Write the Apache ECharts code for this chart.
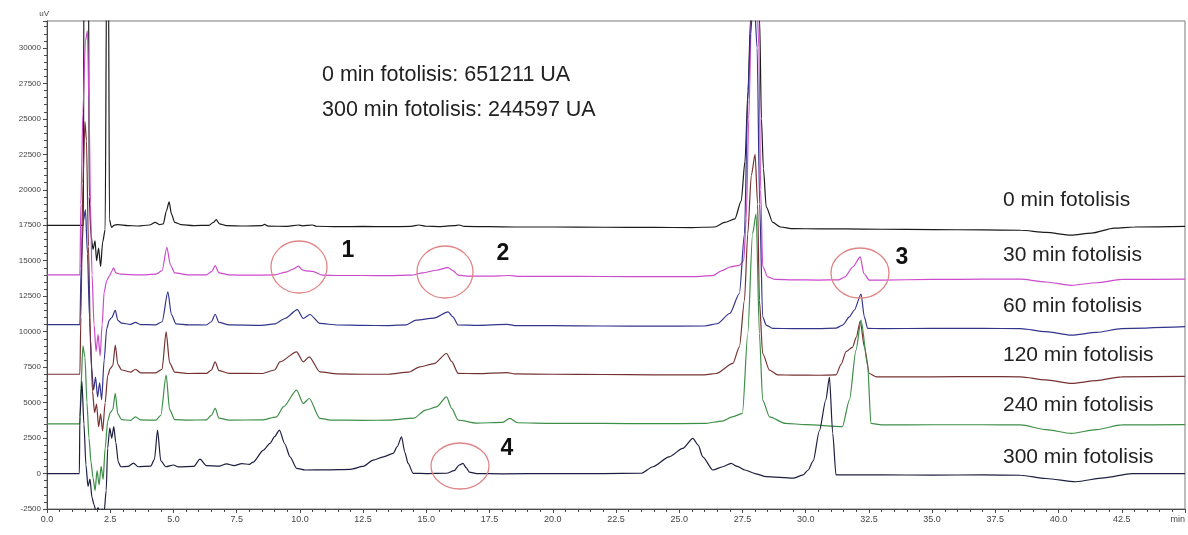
<!DOCTYPE html>
<html>
<head>
<meta charset="utf-8">
<script src="https://cdn.jsdelivr.net/npm/echarts@6/dist/echarts.min.js"></script>
<style>
  html, body { margin: 0; padding: 0; background: #fff; }
  #chart { width: 1188px; height: 535px; }
</style>
</head>
<body>
<div id="chart"></div>
<script>
// HPLC chromatograms of the photolysis series, stacked with a vertical offset (uV vs. min)
const traceNames = ['0 min fotolisis', '30 min fotolisis', '60 min fotolisis',
                    '120 min fotolisis', '240 min fotolisis', '300 min fotolisis'];

const t0 = [[0,17500],[1.44,17500],[1.46,36000],[1.64,36000],[1.67,19500],[1.74,16800],[1.82,15800],[1.9,16400],[1.96,15000],[2.04,15900],[2.12,14600],[2.2,16300],[2.3,17200],[2.36,36000],[2.43,36000],[2.47,17900],[2.55,17350],[2.65,17500],[2.8,17550],[3.2,17480],[3.6,17450],[4.05,17520],[4.28,17700],[4.45,17550],[4.6,17600],[4.72,18500],[4.83,19150],[4.92,18300],[5.05,17700],[5.3,17550],[5.8,17480],[6.4,17500],[6.58,17700],[6.69,17900],[6.82,17600],[7.1,17480],[7.8,17450],[8.5,17470],[8.6,17560],[8.75,17440],[9.5,17420],[9.95,17520],[10.1,17460],[10.5,17520],[10.65,17430],[11.5,17400],[12.5,17420],[13.5,17400],[14.4,17420],[14.7,17520],[15.0,17430],[15.5,17410],[16.1,17470],[16.3,17520],[16.5,17420],[17.5,17400],[18.5,17380],[20,17380],[22,17360],[24,17350],[25.5,17340],[26.4,17380],[26.8,17700],[27.2,17950],[27.45,19200],[27.6,22000],[27.72,27000],[27.82,32000],[28.0,44000],[28.18,32000],[28.25,25000],[28.33,21500],[28.44,18800],[28.7,17700],[29.0,17380],[29.5,17260],[30.5,17250],[31.5,17240],[33,17220],[35,17200],[37,17170],[38.5,17150],[39.5,17000],[40.5,16800],[41.3,16950],[42.2,17300],[43,17380],[45,17420]];

const t30 = [[0,14000],[1.3,14000],[1.34,19000],[1.42,25500],[1.52,30500],[1.6,31200],[1.66,26000],[1.72,19000],[1.78,14000],[1.86,10500],[1.94,8600],[2.02,9800],[2.1,8300],[2.18,10500],[2.26,12800],[2.36,13600],[2.46,13900],[2.56,14250],[2.63,14500],[2.72,14150],[2.9,14050],[3.3,14020],[3.7,14000],[4.3,14050],[4.55,14300],[4.74,15950],[4.88,14700],[5.05,14150],[5.6,14000],[6.3,14000],[6.52,14250],[6.65,14650],[6.8,14150],[7.2,14000],[8.0,13980],[9.0,14000],[9.45,14200],[9.72,14400],[9.94,14620],[10.1,14350],[10.25,14280],[10.5,14250],[10.9,13980],[11.5,13960],[12.5,13960],[13.5,13950],[14.4,13980],[14.87,14150],[15.4,14330],[15.86,14520],[16.05,14300],[16.26,13980],[16.6,13920],[17.5,13920],[18.3,13960],[18.6,13900],[20,13900],[22,13890],[24,13880],[25.6,13880],[26.3,13950],[26.7,14300],[27.0,14560],[27.38,14680],[27.55,15000],[27.65,18000],[27.75,25000],[27.85,32000],[28.0,38000],[28.15,30000],[28.22,20000],[28.3,14600],[28.5,13860],[28.8,13680],[29.5,13650],[30.5,13640],[31.3,13650],[31.55,13860],[31.86,14560],[32.16,15270],[32.3,14100],[32.52,13630],[33,13640],[35,13680],[37,13700],[38.5,13700],[39.5,13500],[40.5,13270],[41.5,13450],[42.5,13680],[45,13700]];

const t60 = [[0,10500],[1.3,10500],[1.35,14500],[1.44,17800],[1.52,18600],[1.6,15500],[1.68,11000],[1.76,7500],[1.84,5900],[1.92,6800],[2.0,5400],[2.08,6400],[2.16,5200],[2.26,8000],[2.36,10200],[2.46,10800],[2.56,11000],[2.7,11500],[2.8,10800],[2.95,10600],[3.3,10520],[3.5,10650],[3.7,10500],[4.3,10480],[4.55,10700],[4.78,12800],[4.92,11200],[5.1,10550],[5.6,10480],[6.3,10470],[6.5,10700],[6.65,11230],[6.8,10650],[7.2,10480],[8.5,10450],[9.0,10550],[9.41,10930],[9.9,11560],[10.13,10930],[10.4,11210],[10.79,10580],[11.5,10470],[12.5,10440],[13.5,10430],[14.2,10480],[14.6,10810],[15.3,10950],[15.86,11390],[16.05,11050],[16.26,10470],[17,10450],[18.2,10520],[18.5,10430],[20,10420],[22,10400],[24,10390],[26,10400],[26.5,10560],[27.0,11280],[27.38,12690],[27.58,16900],[27.71,26300],[27.82,31000],[27.95,34000],[28.08,30000],[28.18,19000],[28.3,11040],[28.44,10460],[28.7,10230],[29.5,10220],[30.5,10220],[31.2,10250],[31.46,10460],[31.73,11040],[31.92,11510],[32.19,12650],[32.32,11040],[32.45,10230],[33,10220],[35,10230],[37,10230],[38.5,10220],[39.5,10000],[40.5,9750],[41.5,9950],[42.5,10220],[45,10350]];

const t120 = [[0,7000],[1.3,7000],[1.34,11000],[1.42,20500],[1.5,24800],[1.56,23500],[1.64,16000],[1.72,9500],[1.8,5800],[1.88,4300],[1.96,4900],[2.04,3300],[2.12,4200],[2.2,3000],[2.3,5000],[2.4,6900],[2.5,7400],[2.6,7600],[2.7,9050],[2.8,7700],[2.95,7300],[3.3,7150],[3.5,7350],[3.7,7100],[4.3,7100],[4.55,7350],[4.71,9990],[4.85,7800],[5.05,7150],[5.6,7050],[6.3,7060],[6.5,7300],[6.65,7870],[6.8,7250],[7.2,7060],[8.5,7050],[9.0,7300],[9.21,7870],[9.87,8580],[10.13,7870],[10.37,8230],[10.79,7170],[11.5,7020],[12.5,7000],[13.5,7000],[14.3,7150],[14.74,7520],[15.3,7750],[15.8,8460],[16.0,7900],[16.26,7060],[17,7040],[18.2,7120],[18.5,7020],[20,7000],[22,6980],[24,6960],[26,6960],[26.46,7050],[27.12,7760],[27.38,8930],[27.58,12220],[27.71,16900],[27.85,21000],[28.0,22500],[28.1,19000],[28.17,12220],[28.3,8460],[28.57,7290],[28.9,6950],[29.5,6940],[30.5,6930],[31.2,6950],[31.4,7700],[31.6,8600],[31.85,8900],[32.0,9600],[32.16,10750],[32.32,8930],[32.52,7050],[32.8,6820],[35,6820],[37,6830],[38.5,6820],[39.5,6600],[40.5,6350],[41.5,6550],[42.5,6820],[45,6850]];

const t240 = [[0,3500],[1.3,3500],[1.34,6000],[1.42,9000],[1.5,8200],[1.58,5000],[1.66,2500],[1.74,800],[1.82,-300],[1.9,-1200],[1.98,200],[2.06,-800],[2.14,500],[2.22,-400],[2.3,1800],[2.4,3700],[2.5,4300],[2.6,4500],[2.7,5650],[2.8,4200],[2.95,3800],[3.3,3750],[3.5,4000],[3.7,3780],[4.3,3760],[4.5,4100],[4.71,6940],[4.85,4500],[5.05,3800],[5.6,3770],[6.3,3780],[6.5,4100],[6.65,4590],[6.8,3900],[7.2,3770],[8.5,3780],[9.08,4000],[9.35,4700],[9.87,5880],[10.13,4940],[10.37,5290],[10.79,3890],[11.2,3770],[12.5,3750],[13.5,3760],[14.5,3900],[14.97,4470],[15.4,4700],[15.8,5410],[16.0,4600],[16.26,3770],[17,3560],[18.0,3600],[18.3,3890],[18.6,3580],[20,3540],[22,3530],[24,3520],[26,3530],[26.7,3700],[27.1,4000],[27.5,4240],[27.71,9870],[27.9,16900],[28.04,18300],[28.17,9870],[28.3,5180],[28.57,4000],[29.2,3530],[30,3450],[31.45,3300],[31.73,5180],[31.99,8700],[32.19,10810],[32.45,7650],[32.58,3530],[33,3430],[35,3440],[37,3440],[38.5,3430],[39.5,3100],[40.5,2830],[41.5,3100],[42.5,3430],[45,3450]];

const t300 = [[0,0],[1.28,0],[1.3,4000],[1.38,6500],[1.46,3500],[1.54,600],[1.62,-900],[1.7,-400],[1.78,-1700],[1.86,-2200],[1.94,-2700],[2.02,-2400],[2.1,-2800],[2.18,-2500],[2.26,-2700],[2.34,-1200],[2.4,1800],[2.48,3200],[2.56,2500],[2.64,3300],[2.72,2200],[2.82,800],[2.92,480],[3.2,500],[3.42,740],[3.6,480],[4.1,520],[4.25,1000],[4.37,3060],[4.5,900],[4.7,480],[5.0,600],[5.2,470],[5.8,500],[6.05,1010],[6.3,560],[6.8,520],[7.1,680],[7.4,560],[7.7,700],[8.0,640],[8.15,800],[8.56,1650],[8.82,2130],[9.0,2600],[9.19,3060],[9.4,2100],[9.61,1180],[9.87,365],[10.2,250],[11,260],[12,300],[12.5,500],[12.9,950],[13.3,1180],[13.69,1420],[13.85,1900],[14.02,2590],[14.15,1500],[14.28,715],[14.48,15],[15,0],[15.8,20],[16.1,200],[16.3,600],[16.45,715],[16.58,400],[16.7,100],[17,0],[18,-20],[20,0],[22,0],[23.5,20],[23.96,480],[24.6,1180],[25.14,1770],[25.54,2480],[25.75,2000],[25.93,1180],[26.33,250],[26.72,480],[27.05,715],[27.3,500],[27.6,250],[28.0,0],[28.44,-220],[29.5,-330],[29.9,-100],[30.1,250],[30.3,900],[30.54,3000],[30.8,5200],[30.94,6800],[31.07,2830],[31.2,-100],[33,-100],[35,-110],[37,-100],[38.5,-120],[39.5,-350],[40.68,-580],[41.8,-300],[42.9,0],[45,0]];

const traces = [t0, t30, t60, t120, t240, t300];
const traceColors = ['#1b1b1b', '#cc4acc', '#34348c', '#763232', '#3e8e48', '#1e1e40'];

const headerLines = ['0 min fotolisis: 651211 UA', '300 min fotolisis: 244597 UA'];
const peakTags = ['1', '2', '3', '4'];

const chart = echarts.init(document.getElementById('chart'), null, { renderer: 'canvas' });

const axisColor = '#4a4a4a';
const baseFont = '"Liberation Sans", Arial, sans-serif';

chart.setOption({
  animation: false,
  backgroundColor: '#ffffff',
  grid: { left: 47, right: 2, top: 21, bottom: 26, show: true, borderColor: '#7a7a7a', borderWidth: 1 },
  xAxis: {
    type: 'value', min: 0, max: 45, interval: 2.5,
    axisLine: { show: true, onZero: false, lineStyle: { color: axisColor, width: 1 } },
    axisTick: { show: true, length: 4, lineStyle: { color: axisColor } },
    minorTick: { show: true, splitNumber: 5, length: 3, lineStyle: { color: axisColor } },
    splitLine: { show: false },
    axisLabel: {
      fontSize: 9, color: '#444', fontFamily: baseFont, margin: 6,
      showMaxLabel: true, alignMaxLabel: 'right',
      formatter: v => (v === 45 ? 'min' : v.toFixed(1))
    }
  },
  yAxis: {
    type: 'value', min: -2500, max: 31900, interval: 2500,
    name: 'uV', nameLocation: 'end', nameGap: 3,
    nameTextStyle: { fontSize: 8, color: '#444', fontFamily: baseFont, align: 'right', padding: [0, -2, 0, 0] },
    axisLine: { show: true, lineStyle: { color: axisColor, width: 1 } },
    axisTick: { show: true, length: 4, lineStyle: { color: axisColor } },
    minorTick: { show: true, splitNumber: 5, length: 3, lineStyle: { color: axisColor } },
    splitLine: { show: false },
    axisLabel: { fontSize: 8, color: '#444', fontFamily: baseFont, margin: 6, showMaxLabel: false,
      formatter: v => String(v) }
  },
  series: traces.map((d, i) => ({
    name: traceNames[i],
    type: 'line',
    data: d,
    showSymbol: false,
    clip: true,
    smooth: 0.25,
    smoothMonotone: 'x',
    z: 2 + i,
    lineStyle: { color: traceColors[i], width: 1.2 }
  }))
});

// Annotations: header text, trace names, circled peaks with their numbers
const textStyle = (txt, size, weight) => ({ text: txt, fill: '#222', font: `${weight || 'normal'} ${size}px ${baseFont}` });
const graphics = [];
headerLines.forEach((txt, i) => {
  graphics.push({ type: 'text', x: 322, y: 75 + i * 35, style: Object.assign(textStyle(txt, 21.5), { verticalAlign: 'middle' }) });
});
const nameRows = [200, 255, 306, 355, 405, 457];
traceNames.forEach((txt, i) => {
  graphics.push({ type: 'text', x: 1003, y: nameRows[i], style: Object.assign(textStyle(txt, 21), { verticalAlign: 'middle' }) });
});
const rings = [[299, 267, 28, 26], [445, 272, 28, 26], [860, 273, 29, 25], [460, 466, 29, 23]];
const tagPos = [[348, 251], [503, 254], [902, 258], [507, 449]];
rings.forEach((r, i) => {
  graphics.push({ type: 'ellipse', shape: { cx: r[0], cy: r[1], rx: r[2], ry: r[3] },
    style: { fill: 'none', stroke: '#e08585', lineWidth: 1.3 }, z: 20 });
  graphics.push({ type: 'text', x: tagPos[i][0], y: tagPos[i][1],
    style: Object.assign(textStyle(peakTags[i], 23, 'bold'), { align: 'center', verticalAlign: 'middle', fill: '#111' }), z: 20 });
});
chart.setOption({ graphic: graphics });
</script>
</body>
</html>
